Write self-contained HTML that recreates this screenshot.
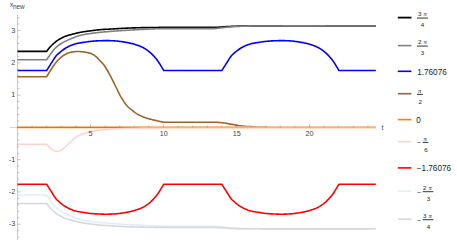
<!DOCTYPE html>
<html><head><meta charset="utf-8"><title>plot</title>
<style>
html,body{margin:0;padding:0;background:#ffffff;}
body{width:457px;height:242px;overflow:hidden;font-family:"Liberation Sans",sans-serif;}
svg{display:block;}
</style></head><body>
<svg width="457" height="242" viewBox="0 0 457 242">
<rect width="457" height="242" fill="#ffffff"/>
<g id="curves">
<path d="M17.45,51.34 L46.75,51.34 L47.50,50.24 L48.25,49.21 L49.00,48.25 L49.75,47.36 L50.50,46.53 L51.25,45.74 L52.00,45.01 L52.75,44.30 L53.50,43.63 L54.25,42.99 L55.00,42.36 L55.75,41.75 L56.50,41.17 L57.25,40.63 L58.00,40.14 L58.75,39.68 L59.50,39.24 L60.25,38.81 L61.00,38.40 L61.75,37.99 L62.50,37.58 L63.25,37.20 L64.00,36.86 L64.75,36.56 L65.50,36.28 L66.25,36.01 L67.00,35.77 L67.75,35.53 L68.50,35.30 L69.25,35.08 L70.00,34.87 L70.75,34.67 L71.50,34.47 L72.25,34.28 L73.00,34.09 L73.75,33.90 L74.50,33.71 L75.25,33.51 L76.00,33.32 L76.75,33.14 L77.50,32.96 L78.25,32.80 L79.00,32.63 L79.75,32.48 L80.50,32.33 L81.25,32.18 L82.00,32.04 L82.75,31.91 L83.50,31.79 L84.25,31.67 L85.00,31.56 L85.75,31.46 L86.50,31.35 L87.25,31.25 L88.00,31.16 L88.75,31.06 L89.50,30.96 L90.25,30.87 L91.00,30.77 L91.75,30.67 L92.50,30.57 L93.25,30.47 L94.00,30.37 L94.75,30.27 L95.50,30.18 L96.25,30.08 L97.00,29.99 L97.75,29.91 L98.50,29.83 L99.25,29.75 L100.00,29.68 L100.75,29.62 L101.50,29.56 L102.25,29.51 L103.00,29.47 L103.75,29.42 L104.50,29.38 L105.25,29.34 L106.00,29.31 L106.75,29.27 L107.50,29.23 L108.25,29.19 L109.00,29.16 L109.75,29.11 L110.50,29.07 L111.25,29.03 L112.00,28.98 L112.75,28.94 L113.50,28.89 L114.25,28.84 L115.00,28.80 L115.75,28.75 L116.50,28.70 L117.25,28.66 L118.00,28.61 L118.75,28.57 L119.50,28.53 L120.25,28.49 L121.00,28.45 L121.75,28.40 L122.50,28.36 L123.25,28.32 L124.00,28.28 L124.75,28.24 L125.50,28.20 L126.25,28.16 L127.00,28.13 L127.75,28.09 L128.50,28.06 L129.25,28.03 L130.00,28.00 L130.75,27.97 L131.50,27.95 L132.25,27.92 L133.00,27.90 L133.75,27.87 L134.50,27.85 L135.25,27.83 L136.00,27.81 L136.75,27.78 L137.50,27.76 L138.25,27.74 L139.00,27.72 L139.75,27.70 L140.50,27.69 L141.25,27.67 L142.00,27.65 L142.75,27.64 L143.50,27.63 L144.25,27.61 L145.00,27.60 L145.75,27.59 L146.50,27.58 L147.25,27.57 L148.00,27.55 L148.75,27.54 L149.50,27.53 L150.25,27.52 L151.00,27.51 L151.75,27.50 L152.50,27.49 L153.25,27.48 L154.00,27.47 L154.75,27.46 L155.50,27.45 L156.25,27.45 L157.00,27.44 L157.75,27.43 L158.50,27.43 L159.25,27.42 L160.00,27.41 L160.75,27.41 L161.50,27.41 L162.25,27.40 L163.00,27.40 L163.45,27.40 L214.50,27.40 L215.25,27.36 L216.00,27.31 L216.75,27.27 L217.50,27.22 L218.25,27.18 L219.00,27.13 L219.75,27.09 L220.50,27.04 L221.25,27.00 L222.00,26.95 L222.75,26.90 L223.50,26.85 L224.25,26.80 L225.00,26.75 L225.75,26.70 L226.50,26.65 L227.25,26.60 L228.00,26.56 L228.75,26.51 L229.50,26.47 L230.25,26.44 L231.00,26.40 L231.75,26.37 L232.50,26.33 L233.25,26.30 L234.00,26.27 L234.75,26.24 L235.50,26.21 L236.25,26.19 L237.00,26.17 L237.75,26.15 L238.50,26.14 L239.25,26.13 L240.00,26.12 L240.75,26.11 L241.50,26.10 L242.25,26.09 L243.00,26.08 L243.75,26.07 L244.50,26.06 L245.25,26.05 L246.00,26.05 L246.75,26.04 L247.50,26.03 L248.25,26.02 L249.00,26.02 L249.75,26.01 L250.50,26.01 L251.25,26.00 L252.00,26.00 L252.75,25.99 L253.50,25.99 L254.25,25.99 L255.00,25.98 L255.75,25.98 L256.50,25.98 L257.25,25.98 L258.00,25.97 L258.75,25.97 L259.50,25.97 L260.25,25.97 L261.00,25.96 L261.75,25.96 L262.50,25.96 L263.25,25.96 L264.00,25.96 L264.75,25.95 L265.50,25.95 L266.25,25.95 L267.00,25.95 L267.75,25.95 L268.50,25.95 L269.25,25.94 L270.00,25.94 L270.75,25.94 L271.50,25.94 L272.25,25.94 L273.00,25.94 L273.75,25.94 L274.50,25.93 L275.25,25.93 L276.00,25.93 L276.75,25.93 L277.50,25.93 L278.25,25.93 L279.00,25.93 L279.75,25.93 L280.50,25.93 L281.25,25.92 L282.00,25.92 L282.75,25.92 L283.50,25.92 L284.25,25.92 L285.00,25.92 L285.75,25.92 L286.50,25.92 L287.25,25.92 L288.00,25.92 L288.75,25.92 L289.50,25.92 L290.25,25.92 L291.00,25.92 L291.75,25.92 L292.50,25.92 L293.25,25.92 L294.00,25.92 L294.75,25.92 L295.50,25.92 L296.25,25.92 L297.00,25.92 L297.75,25.92 L298.50,25.92 L299.25,25.92 L300.00,25.92 L300.75,25.92 L301.50,25.92 L302.25,25.92 L303.00,25.92 L303.75,25.92 L304.50,25.92 L305.25,25.92 L306.00,25.92 L306.75,25.92 L307.50,25.92 L308.25,25.92 L309.00,25.92 L309.75,25.92 L310.50,25.92 L311.25,25.92 L312.00,25.92 L312.75,25.92 L313.50,25.92 L314.25,25.92 L315.00,25.92 L315.75,25.92 L316.50,25.92 L317.25,25.92 L318.00,25.92 L318.75,25.92 L319.50,25.92 L320.25,25.92 L321.00,25.92 L321.75,25.92 L322.50,25.92 L323.25,25.92 L324.00,25.92 L324.75,25.92 L325.50,25.92 L326.25,25.93 L327.00,25.93 L327.75,25.93 L328.50,25.93 L329.25,25.93 L330.00,25.93 L330.75,25.93 L331.50,25.93 L332.25,25.93 L333.00,25.93 L333.75,25.93 L334.50,25.93 L335.25,25.93 L336.00,25.93 L336.75,25.93 L337.50,25.93 L338.25,25.93 L339.00,25.93 L339.75,25.93 L340.50,25.93 L341.25,25.93 L342.00,25.94 L342.75,25.94 L343.50,25.94 L344.25,25.94 L345.00,25.94 L345.75,25.94 L346.50,25.94 L347.25,25.94 L348.00,25.94 L348.75,25.94 L349.50,25.94 L350.25,25.94 L351.00,25.94 L351.75,25.95 L352.50,25.95 L353.25,25.95 L354.00,25.95 L354.75,25.95 L355.50,25.95 L356.25,25.95 L357.00,25.95 L357.75,25.95 L358.50,25.96 L359.25,25.96 L360.00,25.96 L360.75,25.96 L361.50,25.96 L362.25,25.96 L363.00,25.96 L363.75,25.96 L364.50,25.97 L365.25,25.97 L366.00,25.97 L366.75,25.97 L367.50,25.97 L368.25,25.97 L369.00,25.97 L369.75,25.98 L370.50,25.98 L371.25,25.98 L372.00,25.98 L372.75,25.98 L373.50,25.98 L374.25,25.99 L375.00,25.99 L375.75,25.99 L375.80,25.99" stroke="#000000" stroke-width="1.6" fill="none" stroke-linejoin="round"/>
<path d="M17.45,59.79 L46.65,59.79 L47.40,58.66 L48.15,57.54 L48.90,56.44 L49.65,55.34 L50.40,54.25 L51.15,53.18 L51.90,52.16 L52.65,51.15 L53.40,50.20 L54.15,49.34 L54.90,48.55 L55.65,47.80 L56.40,47.10 L57.15,46.45 L57.90,45.84 L58.65,45.27 L59.40,44.74 L60.15,44.24 L60.90,43.76 L61.65,43.30 L62.40,42.85 L63.15,42.42 L63.90,42.01 L64.65,41.62 L65.40,41.26 L66.15,40.91 L66.90,40.57 L67.65,40.23 L68.40,39.89 L69.15,39.55 L69.90,39.21 L70.65,38.87 L71.40,38.55 L72.15,38.24 L72.90,37.95 L73.65,37.66 L74.40,37.38 L75.15,37.11 L75.90,36.85 L76.65,36.60 L77.40,36.34 L78.15,36.09 L78.90,35.84 L79.65,35.59 L80.40,35.37 L81.15,35.16 L81.90,34.97 L82.65,34.81 L83.40,34.66 L84.15,34.52 L84.90,34.38 L85.65,34.25 L86.40,34.13 L87.15,34.02 L87.90,33.90 L88.65,33.79 L89.40,33.69 L90.15,33.58 L90.90,33.47 L91.65,33.37 L92.40,33.26 L93.15,33.16 L93.90,33.07 L94.65,32.97 L95.40,32.88 L96.15,32.78 L96.90,32.69 L97.65,32.61 L98.40,32.52 L99.15,32.44 L99.90,32.36 L100.65,32.28 L101.40,32.21 L102.15,32.13 L102.90,32.06 L103.65,31.99 L104.40,31.92 L105.15,31.86 L105.90,31.79 L106.65,31.73 L107.40,31.67 L108.15,31.60 L108.90,31.54 L109.65,31.48 L110.40,31.42 L111.15,31.36 L111.90,31.30 L112.65,31.24 L113.40,31.18 L114.15,31.12 L114.90,31.06 L115.65,31.01 L116.40,30.95 L117.15,30.90 L117.90,30.84 L118.65,30.79 L119.40,30.74 L120.15,30.69 L120.90,30.64 L121.65,30.59 L122.40,30.55 L123.15,30.50 L123.90,30.45 L124.65,30.41 L125.40,30.36 L126.15,30.32 L126.90,30.28 L127.65,30.23 L128.40,30.19 L129.15,30.15 L129.90,30.11 L130.65,30.06 L131.40,30.02 L132.15,29.98 L132.90,29.94 L133.65,29.90 L134.40,29.85 L135.15,29.81 L135.90,29.77 L136.65,29.73 L137.40,29.69 L138.15,29.65 L138.90,29.61 L139.65,29.57 L140.40,29.53 L141.15,29.49 L141.90,29.45 L142.65,29.42 L143.40,29.38 L144.15,29.34 L144.90,29.30 L145.65,29.27 L146.40,29.23 L147.15,29.20 L147.90,29.16 L148.65,29.12 L149.40,29.09 L150.15,29.05 L150.90,29.02 L151.65,28.98 L152.40,28.95 L153.15,28.92 L153.90,28.89 L154.65,28.86 L155.40,28.84 L156.15,28.81 L156.90,28.78 L157.65,28.76 L158.40,28.74 L159.15,28.71 L159.90,28.69 L160.65,28.67 L161.40,28.65 L162.15,28.63 L162.90,28.61 L163.45,28.60 L214.50,28.60 L215.25,28.52 L216.00,28.44 L216.75,28.36 L217.50,28.27 L218.25,28.19 L219.00,28.11 L219.75,28.03 L220.50,27.94 L221.25,27.86 L222.00,27.78 L222.75,27.69 L223.50,27.61 L224.25,27.53 L225.00,27.45 L225.75,27.37 L226.50,27.29 L227.25,27.21 L228.00,27.14 L228.75,27.06 L229.50,26.99 L230.25,26.93 L231.00,26.87 L231.75,26.81 L232.50,26.76 L233.25,26.71 L234.00,26.66 L234.75,26.61 L235.50,26.57 L236.25,26.53 L237.00,26.49 L237.75,26.45 L238.50,26.41 L239.25,26.38 L240.00,26.35 L240.75,26.32 L241.50,26.30 L242.25,26.27 L243.00,26.24 L243.75,26.22 L244.50,26.20 L245.25,26.18 L246.00,26.16 L246.75,26.14 L247.50,26.13 L248.25,26.12 L249.00,26.10 L249.75,26.09 L250.50,26.08 L251.25,26.07 L252.00,26.06 L252.75,26.05 L253.50,26.04 L254.25,26.04 L255.00,26.03 L255.75,26.02 L256.50,26.01 L257.25,26.01 L258.00,26.00 L258.75,25.99 L259.50,25.99 L260.25,25.98 L261.00,25.98 L261.75,25.97 L262.50,25.97 L263.25,25.97 L264.00,25.97 L264.75,25.96 L265.50,25.96 L266.25,25.96 L267.00,25.96 L267.75,25.96 L268.50,25.95 L269.25,25.95 L270.00,25.95 L270.75,25.95 L271.50,25.94 L272.25,25.94 L273.00,25.94 L273.75,25.94 L274.50,25.94 L275.25,25.94 L276.00,25.93 L276.75,25.93 L277.50,25.93 L278.25,25.93 L279.00,25.93 L279.75,25.93 L280.50,25.93 L281.25,25.93 L282.00,25.92 L282.75,25.92 L283.50,25.92 L284.25,25.92 L285.00,25.92 L285.75,25.92 L286.50,25.92 L287.25,25.92 L288.00,25.92 L288.75,25.92 L289.50,25.92 L290.25,25.92 L291.00,25.92 L291.75,25.92 L292.50,25.92 L293.25,25.92 L294.00,25.92 L294.75,25.92 L295.50,25.92 L296.25,25.92 L297.00,25.92 L297.75,25.92 L298.50,25.92 L299.25,25.92 L300.00,25.92 L300.75,25.92 L301.50,25.92 L302.25,25.92 L303.00,25.92 L303.75,25.92 L304.50,25.92 L305.25,25.92 L306.00,25.92 L306.75,25.92 L307.50,25.92 L308.25,25.92 L309.00,25.92 L309.75,25.92 L310.50,25.92 L311.25,25.92 L312.00,25.92 L312.75,25.92 L313.50,25.92 L314.25,25.92 L315.00,25.92 L315.75,25.92 L316.50,25.92 L317.25,25.92 L318.00,25.92 L318.75,25.92 L319.50,25.92 L320.25,25.92 L321.00,25.92 L321.75,25.92 L322.50,25.92 L323.25,25.92 L324.00,25.92 L324.75,25.92 L325.50,25.92 L326.25,25.93 L327.00,25.93 L327.75,25.93 L328.50,25.93 L329.25,25.93 L330.00,25.93 L330.75,25.93 L331.50,25.93 L332.25,25.93 L333.00,25.93 L333.75,25.93 L334.50,25.93 L335.25,25.93 L336.00,25.93 L336.75,25.93 L337.50,25.93 L338.25,25.93 L339.00,25.93 L339.75,25.93 L340.50,25.93 L341.25,25.93 L342.00,25.94 L342.75,25.94 L343.50,25.94 L344.25,25.94 L345.00,25.94 L345.75,25.94 L346.50,25.94 L347.25,25.94 L348.00,25.94 L348.75,25.94 L349.50,25.94 L350.25,25.94 L351.00,25.94 L351.75,25.95 L352.50,25.95 L353.25,25.95 L354.00,25.95 L354.75,25.95 L355.50,25.95 L356.25,25.95 L357.00,25.95 L357.75,25.95 L358.50,25.96 L359.25,25.96 L360.00,25.96 L360.75,25.96 L361.50,25.96 L362.25,25.96 L363.00,25.96 L363.75,25.96 L364.50,25.97 L365.25,25.97 L366.00,25.97 L366.75,25.97 L367.50,25.97 L368.25,25.97 L369.00,25.97 L369.75,25.98 L370.50,25.98 L371.25,25.98 L372.00,25.98 L372.75,25.98 L373.50,25.98 L374.25,25.99 L375.00,25.99 L375.75,25.99 L375.80,25.99" stroke="#808080" stroke-width="1.6" fill="none" stroke-linejoin="round"/>
<path d="M17.45,70.56 L46.65,70.56 L47.40,69.37 L48.15,68.18 L48.90,66.99 L49.65,65.81 L50.40,64.63 L51.15,63.44 L51.90,62.27 L52.65,61.10 L53.40,59.90 L54.15,58.67 L54.90,57.49 L55.65,56.43 L56.40,55.55 L57.15,54.79 L57.90,54.09 L58.65,53.44 L59.40,52.78 L60.15,52.13 L60.90,51.50 L61.65,50.90 L62.40,50.33 L63.15,49.77 L63.90,49.24 L64.65,48.73 L65.40,48.25 L66.15,47.80 L66.90,47.37 L67.65,46.96 L68.40,46.57 L69.15,46.20 L69.90,45.87 L70.65,45.55 L71.40,45.24 L72.15,44.94 L72.90,44.65 L73.65,44.39 L74.40,44.15 L75.15,43.93 L75.90,43.73 L76.65,43.56 L77.40,43.39 L78.15,43.24 L78.90,43.10 L79.65,42.97 L80.40,42.84 L81.15,42.72 L81.90,42.60 L82.65,42.49 L83.40,42.39 L84.15,42.28 L84.90,42.17 L85.65,42.06 L86.40,41.95 L87.15,41.83 L87.90,41.72 L88.65,41.62 L89.40,41.52 L90.15,41.43 L90.90,41.36 L91.65,41.28 L92.40,41.21 L93.15,41.14 L93.90,41.08 L94.65,41.02 L95.40,40.97 L96.15,40.92 L96.90,40.89 L97.65,40.85 L98.40,40.82 L99.15,40.79 L99.90,40.76 L100.65,40.73 L101.40,40.70 L102.15,40.68 L102.90,40.65 L103.65,40.64 L104.40,40.62 L105.15,40.61 L105.90,40.60 L106.65,40.60 L107.40,40.60 L108.15,40.61 L108.90,40.63 L109.65,40.65 L110.40,40.68 L111.15,40.71 L111.90,40.74 L112.65,40.78 L113.40,40.82 L114.15,40.86 L114.90,40.91 L115.65,40.95 L116.40,41.00 L117.15,41.07 L117.90,41.15 L118.65,41.24 L119.40,41.34 L120.15,41.44 L120.90,41.55 L121.65,41.65 L122.40,41.76 L123.15,41.87 L123.90,41.98 L124.65,42.10 L125.40,42.23 L126.15,42.36 L126.90,42.50 L127.65,42.64 L128.40,42.79 L129.15,42.95 L129.90,43.11 L130.65,43.28 L131.40,43.46 L132.15,43.65 L132.90,43.85 L133.65,44.05 L134.40,44.26 L135.15,44.48 L135.90,44.72 L136.65,44.96 L137.40,45.21 L138.15,45.48 L138.90,45.76 L139.65,46.05 L140.40,46.35 L141.15,46.68 L141.90,47.02 L142.65,47.39 L143.40,47.78 L144.15,48.20 L144.90,48.65 L145.65,49.13 L146.40,49.63 L147.15,50.15 L147.90,50.70 L148.65,51.28 L149.40,51.89 L150.15,52.53 L150.90,53.20 L151.65,53.91 L152.40,54.65 L153.15,55.41 L153.90,56.22 L154.65,57.06 L155.40,57.92 L156.15,58.81 L156.90,59.74 L157.65,60.75 L158.40,61.85 L159.15,63.00 L159.90,64.18 L160.65,65.40 L161.40,66.68 L162.15,67.95 L162.90,69.16 L163.65,70.33 L163.80,70.56 L221.85,70.56 L222.60,69.37 L223.35,68.18 L224.10,66.99 L224.85,65.81 L225.60,64.63 L226.35,63.44 L227.10,62.27 L227.85,61.10 L228.60,59.90 L229.35,58.67 L230.10,57.49 L230.85,56.43 L231.60,55.55 L232.35,54.79 L233.10,54.09 L233.85,53.44 L234.60,52.78 L235.35,52.13 L236.10,51.50 L236.85,50.90 L237.60,50.33 L238.35,49.77 L239.10,49.24 L239.85,48.73 L240.60,48.25 L241.35,47.80 L242.10,47.37 L242.85,46.96 L243.60,46.57 L244.35,46.20 L245.10,45.87 L245.85,45.55 L246.60,45.24 L247.35,44.94 L248.10,44.65 L248.85,44.39 L249.60,44.15 L250.35,43.93 L251.10,43.73 L251.85,43.56 L252.60,43.39 L253.35,43.24 L254.10,43.10 L254.85,42.97 L255.60,42.84 L256.35,42.72 L257.10,42.60 L257.85,42.49 L258.60,42.39 L259.35,42.28 L260.10,42.17 L260.85,42.06 L261.60,41.95 L262.35,41.83 L263.10,41.72 L263.85,41.62 L264.60,41.52 L265.35,41.43 L266.10,41.36 L266.85,41.28 L267.60,41.21 L268.35,41.14 L269.10,41.08 L269.85,41.02 L270.60,40.97 L271.35,40.92 L272.10,40.89 L272.85,40.85 L273.60,40.82 L274.35,40.79 L275.10,40.76 L275.85,40.73 L276.60,40.70 L277.35,40.68 L278.10,40.65 L278.85,40.64 L279.60,40.62 L280.35,40.61 L281.10,40.60 L281.85,40.60 L282.60,40.60 L283.35,40.61 L284.10,40.63 L284.85,40.65 L285.60,40.68 L286.35,40.71 L287.10,40.74 L287.85,40.78 L288.60,40.82 L289.35,40.86 L290.10,40.91 L290.85,40.95 L291.60,41.00 L292.35,41.07 L293.10,41.15 L293.85,41.24 L294.60,41.34 L295.35,41.44 L296.10,41.55 L296.85,41.65 L297.60,41.76 L298.35,41.87 L299.10,41.98 L299.85,42.10 L300.60,42.23 L301.35,42.36 L302.10,42.50 L302.85,42.64 L303.60,42.79 L304.35,42.95 L305.10,43.11 L305.85,43.28 L306.60,43.46 L307.35,43.65 L308.10,43.85 L308.85,44.05 L309.60,44.26 L310.35,44.48 L311.10,44.72 L311.85,44.96 L312.60,45.21 L313.35,45.48 L314.10,45.76 L314.85,46.05 L315.60,46.35 L316.35,46.68 L317.10,47.02 L317.85,47.39 L318.60,47.78 L319.35,48.20 L320.10,48.65 L320.85,49.13 L321.60,49.63 L322.35,50.15 L323.10,50.70 L323.85,51.28 L324.60,51.89 L325.35,52.53 L326.10,53.20 L326.85,53.91 L327.60,54.65 L328.35,55.41 L329.10,56.22 L329.85,57.06 L330.60,57.92 L331.35,58.81 L332.10,59.74 L332.85,60.75 L333.60,61.85 L334.35,63.00 L335.10,64.18 L335.85,65.40 L336.60,66.68 L337.35,67.95 L338.10,69.16 L338.85,70.33 L339.00,70.56 L375.80,70.56" stroke="#0000ff" stroke-width="1.6" fill="none" stroke-linejoin="round"/>
<path d="M17.45,76.69 L46.65,76.69 L47.40,75.47 L48.15,74.25 L48.90,73.05 L49.65,71.85 L50.40,70.67 L51.15,69.48 L51.90,68.31 L52.65,67.16 L53.40,66.06 L54.15,64.97 L54.90,63.90 L55.65,62.88 L56.40,61.94 L57.15,61.07 L57.90,60.25 L58.65,59.48 L59.40,58.74 L60.15,58.06 L60.90,57.42 L61.65,56.81 L62.40,56.24 L63.15,55.70 L63.90,55.20 L64.65,54.74 L65.40,54.33 L66.15,53.93 L66.90,53.56 L67.65,53.22 L68.40,52.93 L69.15,52.69 L69.90,52.47 L70.65,52.28 L71.40,52.11 L72.15,51.96 L72.90,51.85 L73.65,51.77 L74.40,51.69 L75.15,51.63 L75.90,51.57 L76.65,51.53 L77.40,51.51 L78.15,51.50 L78.90,51.52 L79.65,51.56 L80.40,51.61 L81.15,51.68 L81.90,51.74 L82.65,51.81 L83.40,51.90 L84.15,52.00 L84.90,52.12 L85.65,52.24 L86.40,52.37 L87.15,52.52 L87.90,52.69 L88.65,52.87 L89.40,53.07 L90.15,53.30 L90.90,53.56 L91.65,53.86 L92.40,54.20 L93.15,54.59 L93.90,55.04 L94.65,55.55 L95.40,56.10 L96.15,56.69 L96.90,57.35 L97.65,58.14 L98.40,58.99 L99.15,59.84 L99.90,60.63 L100.65,61.39 L101.40,62.14 L102.15,62.91 L102.90,63.73 L103.65,64.62 L104.40,65.61 L105.15,66.75 L105.90,67.98 L106.65,69.24 L107.40,70.50 L108.15,71.77 L108.90,73.07 L109.65,74.41 L110.40,75.81 L111.15,77.28 L111.90,78.78 L112.65,80.31 L113.40,81.86 L114.15,83.44 L114.90,85.00 L115.65,86.51 L116.40,88.00 L117.15,89.50 L117.90,91.03 L118.65,92.61 L119.40,94.14 L120.15,95.54 L120.90,96.83 L121.65,98.05 L122.40,99.22 L123.15,100.39 L123.90,101.57 L124.65,102.72 L125.40,103.82 L126.15,104.82 L126.90,105.70 L127.65,106.52 L128.40,107.27 L129.15,107.96 L129.90,108.57 L130.65,109.13 L131.40,109.66 L132.15,110.21 L132.90,110.80 L133.65,111.43 L134.40,112.06 L135.15,112.65 L135.90,113.17 L136.65,113.65 L137.40,114.11 L138.15,114.54 L138.90,114.95 L139.65,115.34 L140.40,115.70 L141.15,116.05 L141.90,116.38 L142.65,116.69 L143.40,116.99 L144.15,117.28 L144.90,117.56 L145.65,117.82 L146.40,118.06 L147.15,118.29 L147.90,118.52 L148.65,118.73 L149.40,118.94 L150.15,119.14 L150.90,119.33 L151.65,119.52 L152.40,119.69 L153.15,119.87 L153.90,120.04 L154.65,120.22 L155.40,120.40 L156.15,120.58 L156.90,120.76 L157.65,120.94 L158.40,121.12 L159.15,121.28 L159.90,121.44 L160.65,121.60 L161.40,121.75 L162.15,121.90 L162.90,122.05 L163.45,122.15 L215.00,122.20 L215.75,122.24 L216.50,122.29 L217.25,122.34 L218.00,122.39 L218.75,122.45 L219.50,122.51 L220.25,122.57 L221.00,122.63 L221.75,122.70 L222.50,122.77 L223.25,122.84 L224.00,122.93 L224.75,123.02 L225.50,123.12 L226.25,123.25 L227.00,123.40 L227.75,123.55 L228.50,123.70 L229.25,123.85 L230.00,123.99 L230.75,124.12 L231.50,124.26 L232.25,124.40 L233.00,124.54 L233.75,124.69 L234.50,124.83 L235.25,124.98 L236.00,125.13 L236.75,125.28 L237.50,125.41 L238.25,125.54 L239.00,125.67 L239.75,125.80 L240.50,125.91 L241.25,126.01 L242.00,126.09 L242.75,126.16 L243.50,126.23 L244.25,126.28 L245.00,126.34 L245.75,126.38 L246.50,126.43 L247.25,126.47 L248.00,126.51 L248.75,126.54 L249.50,126.58 L250.25,126.61 L251.00,126.65 L251.75,126.69 L252.50,126.73 L253.25,126.77 L254.00,126.81 L254.75,126.85 L255.50,126.89 L256.25,126.93 L257.00,126.96 L257.75,126.99 L258.50,127.02 L259.25,127.05 L260.00,127.07 L260.75,127.10 L261.50,127.13 L262.25,127.15 L263.00,127.17 L263.75,127.20 L264.50,127.22 L265.25,127.24 L266.00,127.26 L266.75,127.27 L267.50,127.29 L268.00,127.30" stroke="#9b652c" stroke-width="1.6" fill="none" stroke-linejoin="round"/>
<path d="M17.45,127.40 L375.80,127.40" stroke="#ff8000" stroke-width="1.6" fill="none" stroke-linejoin="round"/>
<path d="M17.45,144.30 L46.65,144.30 L47.40,145.09 L48.15,145.85 L48.90,146.58 L49.65,147.27 L50.40,147.96 L51.15,148.66 L51.90,149.33 L52.65,149.89 L53.40,150.29 L54.15,150.64 L54.90,150.95 L55.65,151.18 L56.40,151.29 L57.15,151.28 L57.90,151.20 L58.65,151.08 L59.40,150.92 L60.15,150.73 L60.90,150.39 L61.65,149.91 L62.40,149.33 L63.15,148.70 L63.90,148.08 L64.65,147.45 L65.40,146.76 L66.15,146.03 L66.90,145.27 L67.65,144.53 L68.40,143.81 L69.15,143.10 L69.90,142.38 L70.65,141.67 L71.40,140.98 L72.15,140.31 L72.90,139.67 L73.65,139.04 L74.40,138.42 L75.15,137.83 L75.90,137.29 L76.65,136.81 L77.40,136.38 L78.15,135.98 L78.90,135.61 L79.65,135.26 L80.40,134.93 L81.15,134.61 L81.90,134.29 L82.65,133.99 L83.40,133.69 L84.15,133.41 L84.90,133.15 L85.65,132.91 L86.40,132.68 L87.15,132.47 L87.90,132.26 L88.65,132.07 L89.40,131.88 L90.15,131.70 L90.90,131.53 L91.65,131.37 L92.40,131.22 L93.15,131.07 L93.90,130.93 L94.65,130.80 L95.40,130.68 L96.15,130.56 L96.90,130.46 L97.65,130.36 L98.40,130.27 L99.15,130.18 L99.90,130.10 L100.65,130.01 L101.40,129.94 L102.15,129.86 L102.90,129.79 L103.65,129.72 L104.40,129.65 L105.15,129.59 L105.90,129.52 L106.65,129.46 L107.40,129.41 L108.15,129.35 L108.90,129.30 L109.65,129.24 L110.40,129.19 L111.15,129.14 L111.90,129.09 L112.65,129.04 L113.40,128.99 L114.15,128.94 L114.90,128.89 L115.65,128.84 L116.40,128.79 L117.15,128.75 L117.90,128.70 L118.65,128.65 L119.40,128.61 L120.15,128.57 L120.90,128.53 L121.65,128.50 L122.40,128.47 L123.15,128.43 L123.90,128.40 L124.65,128.37 L125.40,128.34 L126.15,128.31 L126.90,128.29 L127.65,128.26 L128.40,128.23 L129.15,128.21 L129.90,128.18 L130.65,128.16 L131.40,128.13 L132.15,128.11 L132.90,128.09 L133.65,128.06 L134.40,128.04 L135.15,128.02 L135.90,128.00 L136.65,127.98 L137.40,127.96 L138.15,127.94 L138.90,127.93 L139.65,127.91 L140.40,127.89 L141.15,127.87 L141.90,127.86 L142.65,127.84 L143.40,127.82 L144.15,127.81 L144.90,127.79 L145.65,127.78 L146.40,127.76 L147.15,127.75 L147.90,127.73 L148.65,127.72 L149.40,127.70 L150.15,127.69 L150.90,127.67 L151.65,127.66 L152.40,127.65 L153.15,127.63 L153.90,127.62 L154.65,127.61 L155.40,127.60 L156.15,127.59 L156.90,127.57 L157.65,127.56 L158.40,127.55 L159.15,127.54 L159.90,127.54 L160.65,127.53 L161.40,127.52 L162.15,127.51 L162.90,127.50 L163.45,127.50 L221.85,127.50 L222.60,127.50 L223.35,127.49 L224.10,127.49 L224.85,127.48 L225.60,127.48 L226.35,127.48 L227.10,127.47 L227.85,127.47 L228.60,127.46 L229.35,127.46 L230.10,127.45 L230.85,127.45 L231.60,127.45 L232.35,127.44 L233.10,127.44 L233.85,127.44 L234.60,127.43 L235.35,127.43 L236.10,127.43 L236.85,127.42 L237.60,127.42 L238.35,127.42 L239.10,127.42 L239.85,127.42 L240.60,127.42 L241.35,127.42 L242.10,127.42 L242.85,127.42 L243.60,127.42 L244.35,127.42 L245.10,127.42 L245.85,127.42 L246.60,127.42 L247.35,127.42 L248.10,127.42 L248.85,127.42 L249.60,127.42 L250.35,127.42 L251.10,127.42 L251.85,127.42 L252.60,127.42 L253.35,127.42 L254.10,127.42 L254.85,127.41 L255.60,127.41 L256.35,127.41 L257.10,127.41 L257.85,127.41 L258.60,127.41 L259.35,127.41 L260.10,127.41 L260.85,127.41 L261.60,127.41 L262.35,127.41 L263.10,127.41 L263.85,127.41 L264.60,127.41 L265.35,127.41 L266.10,127.41 L266.85,127.41 L267.60,127.41 L268.35,127.41 L269.10,127.41 L269.85,127.41 L270.60,127.41 L271.35,127.41 L272.10,127.41 L272.85,127.41 L273.60,127.41 L274.35,127.41 L275.10,127.41 L275.85,127.41 L276.60,127.41 L277.35,127.41 L278.10,127.41 L278.85,127.41 L279.60,127.41 L280.35,127.41 L281.10,127.41 L281.85,127.41 L282.60,127.41 L283.35,127.41 L284.10,127.41 L284.85,127.41 L285.60,127.41 L286.35,127.41 L287.10,127.41 L287.85,127.41 L288.60,127.41 L289.35,127.41 L290.10,127.41 L290.85,127.41 L291.60,127.41 L292.35,127.41 L293.10,127.41 L293.85,127.41 L294.60,127.41 L295.35,127.41 L296.10,127.41 L296.85,127.41 L297.60,127.41 L298.35,127.40 L299.10,127.40 L299.85,127.40 L300.60,127.40 L301.35,127.40 L302.10,127.40 L302.85,127.40 L303.60,127.40 L304.35,127.40 L305.10,127.40 L305.85,127.40 L306.60,127.40 L307.35,127.40 L308.10,127.40 L308.85,127.40 L309.60,127.40 L310.35,127.40 L311.10,127.40 L311.85,127.40 L312.60,127.40 L313.35,127.40 L314.10,127.40 L314.85,127.40 L315.60,127.40 L316.35,127.40 L317.10,127.40 L317.85,127.40 L318.60,127.40 L319.35,127.40 L320.10,127.40 L320.85,127.40 L321.60,127.40 L322.35,127.40 L323.10,127.40 L323.85,127.40 L324.60,127.40 L325.35,127.40 L326.10,127.40 L326.85,127.40 L327.60,127.40 L328.35,127.40 L329.10,127.40 L329.85,127.40 L330.60,127.40 L331.35,127.40 L332.10,127.40 L332.85,127.40 L333.60,127.40 L334.35,127.40 L335.10,127.40 L335.85,127.40 L336.60,127.40 L337.35,127.40 L338.10,127.40 L338.85,127.40 L339.60,127.40 L340.35,127.40 L341.10,127.40 L341.85,127.40 L342.60,127.40 L343.35,127.40 L344.10,127.40 L344.85,127.40 L345.60,127.40 L346.35,127.40 L347.10,127.40 L347.85,127.40 L348.60,127.40 L349.35,127.40 L350.10,127.40 L350.85,127.40 L351.60,127.40 L352.35,127.40 L353.10,127.40 L353.85,127.40 L354.60,127.40 L355.35,127.40 L356.10,127.40 L356.85,127.40 L357.60,127.40 L358.35,127.40 L359.10,127.40 L359.85,127.40 L360.60,127.40 L361.35,127.40 L362.10,127.40 L362.85,127.40 L363.60,127.40 L364.35,127.40 L365.10,127.40 L365.85,127.40 L366.60,127.40 L367.35,127.40 L368.10,127.40 L368.85,127.40 L369.60,127.40 L370.35,127.40 L371.10,127.40 L371.85,127.40 L372.60,127.40 L373.35,127.40 L374.10,127.40 L374.85,127.40 L375.60,127.40 L375.80,127.40" stroke="#ffd2d2" stroke-width="1.6" fill="none" stroke-linejoin="round"/>
<path d="M17.45,184.24 L46.65,184.24 L47.40,185.43 L48.15,186.62 L48.90,187.81 L49.65,188.99 L50.40,190.17 L51.15,191.36 L51.90,192.53 L52.65,193.70 L53.40,194.90 L54.15,196.13 L54.90,197.31 L55.65,198.37 L56.40,199.25 L57.15,200.01 L57.90,200.71 L58.65,201.36 L59.40,202.02 L60.15,202.67 L60.90,203.30 L61.65,203.90 L62.40,204.47 L63.15,205.03 L63.90,205.56 L64.65,206.07 L65.40,206.55 L66.15,207.00 L66.90,207.43 L67.65,207.84 L68.40,208.23 L69.15,208.60 L69.90,208.93 L70.65,209.25 L71.40,209.56 L72.15,209.86 L72.90,210.15 L73.65,210.41 L74.40,210.65 L75.15,210.87 L75.90,211.07 L76.65,211.24 L77.40,211.41 L78.15,211.56 L78.90,211.70 L79.65,211.83 L80.40,211.96 L81.15,212.08 L81.90,212.20 L82.65,212.31 L83.40,212.41 L84.15,212.52 L84.90,212.63 L85.65,212.74 L86.40,212.85 L87.15,212.97 L87.90,213.08 L88.65,213.18 L89.40,213.28 L90.15,213.37 L90.90,213.44 L91.65,213.52 L92.40,213.59 L93.15,213.66 L93.90,213.72 L94.65,213.78 L95.40,213.83 L96.15,213.88 L96.90,213.91 L97.65,213.95 L98.40,213.98 L99.15,214.01 L99.90,214.04 L100.65,214.07 L101.40,214.10 L102.15,214.12 L102.90,214.15 L103.65,214.16 L104.40,214.18 L105.15,214.19 L105.90,214.20 L106.65,214.20 L107.40,214.20 L108.15,214.19 L108.90,214.17 L109.65,214.15 L110.40,214.12 L111.15,214.09 L111.90,214.06 L112.65,214.02 L113.40,213.98 L114.15,213.94 L114.90,213.89 L115.65,213.85 L116.40,213.80 L117.15,213.73 L117.90,213.65 L118.65,213.56 L119.40,213.46 L120.15,213.36 L120.90,213.25 L121.65,213.15 L122.40,213.04 L123.15,212.93 L123.90,212.82 L124.65,212.70 L125.40,212.57 L126.15,212.44 L126.90,212.30 L127.65,212.16 L128.40,212.01 L129.15,211.85 L129.90,211.69 L130.65,211.52 L131.40,211.34 L132.15,211.15 L132.90,210.95 L133.65,210.75 L134.40,210.54 L135.15,210.32 L135.90,210.08 L136.65,209.84 L137.40,209.59 L138.15,209.32 L138.90,209.04 L139.65,208.75 L140.40,208.45 L141.15,208.12 L141.90,207.78 L142.65,207.41 L143.40,207.02 L144.15,206.60 L144.90,206.15 L145.65,205.67 L146.40,205.17 L147.15,204.65 L147.90,204.10 L148.65,203.52 L149.40,202.91 L150.15,202.27 L150.90,201.60 L151.65,200.89 L152.40,200.15 L153.15,199.39 L153.90,198.58 L154.65,197.74 L155.40,196.88 L156.15,195.99 L156.90,195.06 L157.65,194.05 L158.40,192.95 L159.15,191.80 L159.90,190.62 L160.65,189.40 L161.40,188.12 L162.15,186.85 L162.90,185.64 L163.65,184.47 L163.80,184.24 L221.85,184.24 L222.60,185.43 L223.35,186.62 L224.10,187.81 L224.85,188.99 L225.60,190.17 L226.35,191.36 L227.10,192.53 L227.85,193.70 L228.60,194.90 L229.35,196.13 L230.10,197.31 L230.85,198.37 L231.60,199.25 L232.35,200.01 L233.10,200.71 L233.85,201.36 L234.60,202.02 L235.35,202.67 L236.10,203.30 L236.85,203.90 L237.60,204.47 L238.35,205.03 L239.10,205.56 L239.85,206.07 L240.60,206.55 L241.35,207.00 L242.10,207.43 L242.85,207.84 L243.60,208.23 L244.35,208.60 L245.10,208.93 L245.85,209.25 L246.60,209.56 L247.35,209.86 L248.10,210.15 L248.85,210.41 L249.60,210.65 L250.35,210.87 L251.10,211.07 L251.85,211.24 L252.60,211.41 L253.35,211.56 L254.10,211.70 L254.85,211.83 L255.60,211.96 L256.35,212.08 L257.10,212.20 L257.85,212.31 L258.60,212.41 L259.35,212.52 L260.10,212.63 L260.85,212.74 L261.60,212.85 L262.35,212.97 L263.10,213.08 L263.85,213.18 L264.60,213.28 L265.35,213.37 L266.10,213.44 L266.85,213.52 L267.60,213.59 L268.35,213.66 L269.10,213.72 L269.85,213.78 L270.60,213.83 L271.35,213.88 L272.10,213.91 L272.85,213.95 L273.60,213.98 L274.35,214.01 L275.10,214.04 L275.85,214.07 L276.60,214.10 L277.35,214.12 L278.10,214.15 L278.85,214.16 L279.60,214.18 L280.35,214.19 L281.10,214.20 L281.85,214.20 L282.60,214.20 L283.35,214.19 L284.10,214.17 L284.85,214.15 L285.60,214.12 L286.35,214.09 L287.10,214.06 L287.85,214.02 L288.60,213.98 L289.35,213.94 L290.10,213.89 L290.85,213.85 L291.60,213.80 L292.35,213.73 L293.10,213.65 L293.85,213.56 L294.60,213.46 L295.35,213.36 L296.10,213.25 L296.85,213.15 L297.60,213.04 L298.35,212.93 L299.10,212.82 L299.85,212.70 L300.60,212.57 L301.35,212.44 L302.10,212.30 L302.85,212.16 L303.60,212.01 L304.35,211.85 L305.10,211.69 L305.85,211.52 L306.60,211.34 L307.35,211.15 L308.10,210.95 L308.85,210.75 L309.60,210.54 L310.35,210.32 L311.10,210.08 L311.85,209.84 L312.60,209.59 L313.35,209.32 L314.10,209.04 L314.85,208.75 L315.60,208.45 L316.35,208.12 L317.10,207.78 L317.85,207.41 L318.60,207.02 L319.35,206.60 L320.10,206.15 L320.85,205.67 L321.60,205.17 L322.35,204.65 L323.10,204.10 L323.85,203.52 L324.60,202.91 L325.35,202.27 L326.10,201.60 L326.85,200.89 L327.60,200.15 L328.35,199.39 L329.10,198.58 L329.85,197.74 L330.60,196.88 L331.35,195.99 L332.10,195.06 L332.85,194.05 L333.60,192.95 L334.35,191.80 L335.10,190.62 L335.85,189.40 L336.60,188.12 L337.35,186.85 L338.10,185.64 L338.85,184.47 L339.00,184.24 L375.80,184.24" stroke="#ff0000" stroke-width="1.6" fill="none" stroke-linejoin="round"/>
<path d="M17.45,195.01 L46.65,195.01 L47.40,196.14 L48.15,197.26 L48.90,198.36 L49.65,199.46 L50.40,200.55 L51.15,201.62 L51.90,202.64 L52.65,203.65 L53.40,204.60 L54.15,205.46 L54.90,206.25 L55.65,207.00 L56.40,207.70 L57.15,208.35 L57.90,208.96 L58.65,209.53 L59.40,210.06 L60.15,210.56 L60.90,211.04 L61.65,211.50 L62.40,211.95 L63.15,212.38 L63.90,212.79 L64.65,213.18 L65.40,213.54 L66.15,213.89 L66.90,214.23 L67.65,214.57 L68.40,214.91 L69.15,215.25 L69.90,215.59 L70.65,215.93 L71.40,216.25 L72.15,216.56 L72.90,216.85 L73.65,217.14 L74.40,217.42 L75.15,217.69 L75.90,217.95 L76.65,218.20 L77.40,218.46 L78.15,218.71 L78.90,218.96 L79.65,219.21 L80.40,219.43 L81.15,219.64 L81.90,219.83 L82.65,219.99 L83.40,220.14 L84.15,220.28 L84.90,220.42 L85.65,220.55 L86.40,220.67 L87.15,220.78 L87.90,220.90 L88.65,221.01 L89.40,221.11 L90.15,221.22 L90.90,221.33 L91.65,221.43 L92.40,221.54 L93.15,221.64 L93.90,221.73 L94.65,221.83 L95.40,221.92 L96.15,222.02 L96.90,222.11 L97.65,222.19 L98.40,222.28 L99.15,222.36 L99.90,222.44 L100.65,222.52 L101.40,222.59 L102.15,222.67 L102.90,222.74 L103.65,222.81 L104.40,222.88 L105.15,222.94 L105.90,223.01 L106.65,223.07 L107.40,223.13 L108.15,223.20 L108.90,223.26 L109.65,223.32 L110.40,223.38 L111.15,223.44 L111.90,223.50 L112.65,223.56 L113.40,223.62 L114.15,223.68 L114.90,223.74 L115.65,223.79 L116.40,223.85 L117.15,223.90 L117.90,223.96 L118.65,224.01 L119.40,224.06 L120.15,224.11 L120.90,224.16 L121.65,224.21 L122.40,224.25 L123.15,224.30 L123.90,224.35 L124.65,224.39 L125.40,224.44 L126.15,224.48 L126.90,224.52 L127.65,224.57 L128.40,224.61 L129.15,224.65 L129.90,224.69 L130.65,224.74 L131.40,224.78 L132.15,224.82 L132.90,224.86 L133.65,224.90 L134.40,224.95 L135.15,224.99 L135.90,225.03 L136.65,225.07 L137.40,225.11 L138.15,225.15 L138.90,225.19 L139.65,225.23 L140.40,225.27 L141.15,225.31 L141.90,225.35 L142.65,225.38 L143.40,225.42 L144.15,225.46 L144.90,225.50 L145.65,225.53 L146.40,225.57 L147.15,225.60 L147.90,225.64 L148.65,225.68 L149.40,225.71 L150.15,225.75 L150.90,225.78 L151.65,225.82 L152.40,225.85 L153.15,225.88 L153.90,225.91 L154.65,225.94 L155.40,225.96 L156.15,225.99 L156.90,226.02 L157.65,226.04 L158.40,226.06 L159.15,226.09 L159.90,226.11 L160.65,226.13 L161.40,226.15 L162.15,226.17 L162.90,226.19 L163.45,226.20 L214.50,226.20 L215.25,226.28 L216.00,226.36 L216.75,226.44 L217.50,226.53 L218.25,226.61 L219.00,226.69 L219.75,226.77 L220.50,226.86 L221.25,226.94 L222.00,227.02 L222.75,227.11 L223.50,227.19 L224.25,227.27 L225.00,227.35 L225.75,227.43 L226.50,227.51 L227.25,227.59 L228.00,227.66 L228.75,227.74 L229.50,227.81 L230.25,227.87 L231.00,227.93 L231.75,227.99 L232.50,228.04 L233.25,228.09 L234.00,228.14 L234.75,228.19 L235.50,228.23 L236.25,228.27 L237.00,228.31 L237.75,228.35 L238.50,228.39 L239.25,228.42 L240.00,228.45 L240.75,228.48 L241.50,228.50 L242.25,228.53 L243.00,228.56 L243.75,228.58 L244.50,228.60 L245.25,228.62 L246.00,228.64 L246.75,228.66 L247.50,228.67 L248.25,228.68 L249.00,228.70 L249.75,228.71 L250.50,228.72 L251.25,228.73 L252.00,228.74 L252.75,228.75 L253.50,228.76 L254.25,228.76 L255.00,228.77 L255.75,228.78 L256.50,228.79 L257.25,228.79 L258.00,228.80 L258.75,228.81 L259.50,228.81 L260.25,228.82 L261.00,228.82 L261.75,228.83 L262.50,228.83 L263.25,228.83 L264.00,228.83 L264.75,228.84 L265.50,228.84 L266.25,228.84 L267.00,228.84 L267.75,228.84 L268.50,228.85 L269.25,228.85 L270.00,228.85 L270.75,228.85 L271.50,228.86 L272.25,228.86 L273.00,228.86 L273.75,228.86 L274.50,228.86 L275.25,228.86 L276.00,228.87 L276.75,228.87 L277.50,228.87 L278.25,228.87 L279.00,228.87 L279.75,228.87 L280.50,228.87 L281.25,228.87 L282.00,228.88 L282.75,228.88 L283.50,228.88 L284.25,228.88 L285.00,228.88 L285.75,228.88 L286.50,228.88 L287.25,228.88 L288.00,228.88 L288.75,228.88 L289.50,228.88 L290.25,228.88 L291.00,228.88 L291.75,228.88 L292.50,228.88 L293.25,228.88 L294.00,228.88 L294.75,228.88 L295.50,228.88 L296.25,228.88 L297.00,228.88 L297.75,228.88 L298.50,228.88 L299.25,228.88 L300.00,228.88 L300.75,228.88 L301.50,228.88 L302.25,228.88 L303.00,228.88 L303.75,228.88 L304.50,228.88 L305.25,228.88 L306.00,228.88 L306.75,228.88 L307.50,228.88 L308.25,228.88 L309.00,228.88 L309.75,228.88 L310.50,228.88 L311.25,228.88 L312.00,228.88 L312.75,228.88 L313.50,228.88 L314.25,228.88 L315.00,228.88 L315.75,228.88 L316.50,228.88 L317.25,228.88 L318.00,228.88 L318.75,228.88 L319.50,228.88 L320.25,228.88 L321.00,228.88 L321.75,228.88 L322.50,228.88 L323.25,228.88 L324.00,228.88 L324.75,228.88 L325.50,228.88 L326.25,228.87 L327.00,228.87 L327.75,228.87 L328.50,228.87 L329.25,228.87 L330.00,228.87 L330.75,228.87 L331.50,228.87 L332.25,228.87 L333.00,228.87 L333.75,228.87 L334.50,228.87 L335.25,228.87 L336.00,228.87 L336.75,228.87 L337.50,228.87 L338.25,228.87 L339.00,228.87 L339.75,228.87 L340.50,228.87 L341.25,228.87 L342.00,228.86 L342.75,228.86 L343.50,228.86 L344.25,228.86 L345.00,228.86 L345.75,228.86 L346.50,228.86 L347.25,228.86 L348.00,228.86 L348.75,228.86 L349.50,228.86 L350.25,228.86 L351.00,228.86 L351.75,228.85 L352.50,228.85 L353.25,228.85 L354.00,228.85 L354.75,228.85 L355.50,228.85 L356.25,228.85 L357.00,228.85 L357.75,228.85 L358.50,228.84 L359.25,228.84 L360.00,228.84 L360.75,228.84 L361.50,228.84 L362.25,228.84 L363.00,228.84 L363.75,228.84 L364.50,228.83 L365.25,228.83 L366.00,228.83 L366.75,228.83 L367.50,228.83 L368.25,228.83 L369.00,228.83 L369.75,228.82 L370.50,228.82 L371.25,228.82 L372.00,228.82 L372.75,228.82 L373.50,228.82 L374.25,228.81 L375.00,228.81 L375.75,228.81 L375.80,228.81" stroke="#deeefc" stroke-width="1.6" fill="none" stroke-linejoin="round"/>
<path d="M17.45,203.46 L46.75,203.46 L47.50,204.56 L48.25,205.59 L49.00,206.55 L49.75,207.44 L50.50,208.27 L51.25,209.06 L52.00,209.79 L52.75,210.50 L53.50,211.17 L54.25,211.81 L55.00,212.44 L55.75,213.05 L56.50,213.63 L57.25,214.17 L58.00,214.66 L58.75,215.12 L59.50,215.56 L60.25,215.99 L61.00,216.40 L61.75,216.81 L62.50,217.22 L63.25,217.60 L64.00,217.94 L64.75,218.24 L65.50,218.52 L66.25,218.79 L67.00,219.03 L67.75,219.27 L68.50,219.50 L69.25,219.72 L70.00,219.93 L70.75,220.13 L71.50,220.33 L72.25,220.52 L73.00,220.71 L73.75,220.90 L74.50,221.09 L75.25,221.29 L76.00,221.48 L76.75,221.66 L77.50,221.84 L78.25,222.00 L79.00,222.17 L79.75,222.32 L80.50,222.47 L81.25,222.62 L82.00,222.76 L82.75,222.89 L83.50,223.01 L84.25,223.13 L85.00,223.24 L85.75,223.34 L86.50,223.45 L87.25,223.55 L88.00,223.64 L88.75,223.74 L89.50,223.84 L90.25,223.93 L91.00,224.03 L91.75,224.13 L92.50,224.23 L93.25,224.33 L94.00,224.43 L94.75,224.53 L95.50,224.62 L96.25,224.72 L97.00,224.81 L97.75,224.89 L98.50,224.97 L99.25,225.05 L100.00,225.12 L100.75,225.18 L101.50,225.24 L102.25,225.29 L103.00,225.33 L103.75,225.38 L104.50,225.42 L105.25,225.46 L106.00,225.49 L106.75,225.53 L107.50,225.57 L108.25,225.61 L109.00,225.64 L109.75,225.69 L110.50,225.73 L111.25,225.77 L112.00,225.82 L112.75,225.86 L113.50,225.91 L114.25,225.96 L115.00,226.00 L115.75,226.05 L116.50,226.10 L117.25,226.14 L118.00,226.19 L118.75,226.23 L119.50,226.27 L120.25,226.31 L121.00,226.35 L121.75,226.40 L122.50,226.44 L123.25,226.48 L124.00,226.52 L124.75,226.56 L125.50,226.60 L126.25,226.64 L127.00,226.67 L127.75,226.71 L128.50,226.74 L129.25,226.77 L130.00,226.80 L130.75,226.83 L131.50,226.85 L132.25,226.88 L133.00,226.90 L133.75,226.93 L134.50,226.95 L135.25,226.97 L136.00,226.99 L136.75,227.02 L137.50,227.04 L138.25,227.06 L139.00,227.08 L139.75,227.10 L140.50,227.11 L141.25,227.13 L142.00,227.15 L142.75,227.16 L143.50,227.17 L144.25,227.19 L145.00,227.20 L145.75,227.21 L146.50,227.22 L147.25,227.23 L148.00,227.25 L148.75,227.26 L149.50,227.27 L150.25,227.28 L151.00,227.29 L151.75,227.30 L152.50,227.31 L153.25,227.32 L154.00,227.33 L154.75,227.34 L155.50,227.35 L156.25,227.35 L157.00,227.36 L157.75,227.37 L158.50,227.37 L159.25,227.38 L160.00,227.39 L160.75,227.39 L161.50,227.39 L162.25,227.40 L163.00,227.40 L163.45,227.40 L214.50,227.40 L215.25,227.44 L216.00,227.49 L216.75,227.53 L217.50,227.58 L218.25,227.62 L219.00,227.67 L219.75,227.71 L220.50,227.76 L221.25,227.80 L222.00,227.85 L222.75,227.90 L223.50,227.95 L224.25,228.00 L225.00,228.05 L225.75,228.10 L226.50,228.15 L227.25,228.20 L228.00,228.24 L228.75,228.29 L229.50,228.33 L230.25,228.36 L231.00,228.40 L231.75,228.43 L232.50,228.47 L233.25,228.50 L234.00,228.53 L234.75,228.56 L235.50,228.59 L236.25,228.61 L237.00,228.63 L237.75,228.65 L238.50,228.66 L239.25,228.67 L240.00,228.68 L240.75,228.69 L241.50,228.70 L242.25,228.71 L243.00,228.72 L243.75,228.73 L244.50,228.74 L245.25,228.75 L246.00,228.75 L246.75,228.76 L247.50,228.77 L248.25,228.78 L249.00,228.78 L249.75,228.79 L250.50,228.79 L251.25,228.80 L252.00,228.80 L252.75,228.81 L253.50,228.81 L254.25,228.81 L255.00,228.82 L255.75,228.82 L256.50,228.82 L257.25,228.82 L258.00,228.83 L258.75,228.83 L259.50,228.83 L260.25,228.83 L261.00,228.84 L261.75,228.84 L262.50,228.84 L263.25,228.84 L264.00,228.84 L264.75,228.85 L265.50,228.85 L266.25,228.85 L267.00,228.85 L267.75,228.85 L268.50,228.85 L269.25,228.86 L270.00,228.86 L270.75,228.86 L271.50,228.86 L272.25,228.86 L273.00,228.86 L273.75,228.86 L274.50,228.87 L275.25,228.87 L276.00,228.87 L276.75,228.87 L277.50,228.87 L278.25,228.87 L279.00,228.87 L279.75,228.87 L280.50,228.87 L281.25,228.88 L282.00,228.88 L282.75,228.88 L283.50,228.88 L284.25,228.88 L285.00,228.88 L285.75,228.88 L286.50,228.88 L287.25,228.88 L288.00,228.88 L288.75,228.88 L289.50,228.88 L290.25,228.88 L291.00,228.88 L291.75,228.88 L292.50,228.88 L293.25,228.88 L294.00,228.88 L294.75,228.88 L295.50,228.88 L296.25,228.88 L297.00,228.88 L297.75,228.88 L298.50,228.88 L299.25,228.88 L300.00,228.88 L300.75,228.88 L301.50,228.88 L302.25,228.88 L303.00,228.88 L303.75,228.88 L304.50,228.88 L305.25,228.88 L306.00,228.88 L306.75,228.88 L307.50,228.88 L308.25,228.88 L309.00,228.88 L309.75,228.88 L310.50,228.88 L311.25,228.88 L312.00,228.88 L312.75,228.88 L313.50,228.88 L314.25,228.88 L315.00,228.88 L315.75,228.88 L316.50,228.88 L317.25,228.88 L318.00,228.88 L318.75,228.88 L319.50,228.88 L320.25,228.88 L321.00,228.88 L321.75,228.88 L322.50,228.88 L323.25,228.88 L324.00,228.88 L324.75,228.88 L325.50,228.88 L326.25,228.87 L327.00,228.87 L327.75,228.87 L328.50,228.87 L329.25,228.87 L330.00,228.87 L330.75,228.87 L331.50,228.87 L332.25,228.87 L333.00,228.87 L333.75,228.87 L334.50,228.87 L335.25,228.87 L336.00,228.87 L336.75,228.87 L337.50,228.87 L338.25,228.87 L339.00,228.87 L339.75,228.87 L340.50,228.87 L341.25,228.87 L342.00,228.86 L342.75,228.86 L343.50,228.86 L344.25,228.86 L345.00,228.86 L345.75,228.86 L346.50,228.86 L347.25,228.86 L348.00,228.86 L348.75,228.86 L349.50,228.86 L350.25,228.86 L351.00,228.86 L351.75,228.85 L352.50,228.85 L353.25,228.85 L354.00,228.85 L354.75,228.85 L355.50,228.85 L356.25,228.85 L357.00,228.85 L357.75,228.85 L358.50,228.84 L359.25,228.84 L360.00,228.84 L360.75,228.84 L361.50,228.84 L362.25,228.84 L363.00,228.84 L363.75,228.84 L364.50,228.83 L365.25,228.83 L366.00,228.83 L366.75,228.83 L367.50,228.83 L368.25,228.83 L369.00,228.83 L369.75,228.82 L370.50,228.82 L371.25,228.82 L372.00,228.82 L372.75,228.82 L373.50,228.82 L374.25,228.81 L375.00,228.81 L375.75,228.81 L375.80,228.81" stroke="#d8d8d8" stroke-width="1.6" fill="none" stroke-linejoin="round"/>
</g>
<g id="axes">
<line x1="10" y1="127.45" x2="375.8" y2="127.45" stroke="#666666" stroke-width="0.27"/>
<line x1="17.45" y1="14.9" x2="17.45" y2="239.9" stroke="#666666" stroke-width="0.36"/>
<line x1="32.05" y1="127.4" x2="32.05" y2="125.5" stroke="#666666" stroke-width="0.36"/>
<line x1="46.65" y1="127.4" x2="46.65" y2="125.5" stroke="#666666" stroke-width="0.36"/>
<line x1="61.25" y1="127.4" x2="61.25" y2="125.5" stroke="#666666" stroke-width="0.36"/>
<line x1="75.85" y1="127.4" x2="75.85" y2="125.5" stroke="#666666" stroke-width="0.36"/>
<line x1="90.45" y1="127.4" x2="90.45" y2="124.2" stroke="#666666" stroke-width="0.36"/>
<line x1="105.05" y1="127.4" x2="105.05" y2="125.5" stroke="#666666" stroke-width="0.36"/>
<line x1="119.65" y1="127.4" x2="119.65" y2="125.5" stroke="#666666" stroke-width="0.36"/>
<line x1="134.25" y1="127.4" x2="134.25" y2="125.5" stroke="#666666" stroke-width="0.36"/>
<line x1="148.85" y1="127.4" x2="148.85" y2="125.5" stroke="#666666" stroke-width="0.36"/>
<line x1="163.45" y1="127.4" x2="163.45" y2="124.2" stroke="#666666" stroke-width="0.36"/>
<line x1="178.05" y1="127.4" x2="178.05" y2="125.5" stroke="#666666" stroke-width="0.36"/>
<line x1="192.65" y1="127.4" x2="192.65" y2="125.5" stroke="#666666" stroke-width="0.36"/>
<line x1="207.25" y1="127.4" x2="207.25" y2="125.5" stroke="#666666" stroke-width="0.36"/>
<line x1="221.85" y1="127.4" x2="221.85" y2="125.5" stroke="#666666" stroke-width="0.36"/>
<line x1="236.45" y1="127.4" x2="236.45" y2="124.2" stroke="#666666" stroke-width="0.36"/>
<line x1="251.05" y1="127.4" x2="251.05" y2="125.5" stroke="#666666" stroke-width="0.36"/>
<line x1="265.65" y1="127.4" x2="265.65" y2="125.5" stroke="#666666" stroke-width="0.36"/>
<line x1="280.25" y1="127.4" x2="280.25" y2="125.5" stroke="#666666" stroke-width="0.36"/>
<line x1="294.85" y1="127.4" x2="294.85" y2="125.5" stroke="#666666" stroke-width="0.36"/>
<line x1="309.45" y1="127.4" x2="309.45" y2="124.2" stroke="#666666" stroke-width="0.36"/>
<line x1="324.05" y1="127.4" x2="324.05" y2="125.5" stroke="#666666" stroke-width="0.36"/>
<line x1="338.65" y1="127.4" x2="338.65" y2="125.5" stroke="#666666" stroke-width="0.36"/>
<line x1="353.25" y1="127.4" x2="353.25" y2="125.5" stroke="#666666" stroke-width="0.36"/>
<line x1="367.85" y1="127.4" x2="367.85" y2="125.5" stroke="#666666" stroke-width="0.36"/>
<line x1="17.45" y1="237.15" x2="19.349999999999998" y2="237.15" stroke="#666666" stroke-width="0.36"/>
<line x1="17.45" y1="230.70" x2="19.349999999999998" y2="230.70" stroke="#666666" stroke-width="0.36"/>
<line x1="17.45" y1="224.24" x2="20.65" y2="224.24" stroke="#666666" stroke-width="0.36"/>
<line x1="17.45" y1="217.78" x2="19.349999999999998" y2="217.78" stroke="#666666" stroke-width="0.36"/>
<line x1="17.45" y1="211.33" x2="19.349999999999998" y2="211.33" stroke="#666666" stroke-width="0.36"/>
<line x1="17.45" y1="204.87" x2="19.349999999999998" y2="204.87" stroke="#666666" stroke-width="0.36"/>
<line x1="17.45" y1="198.42" x2="19.349999999999998" y2="198.42" stroke="#666666" stroke-width="0.36"/>
<line x1="17.45" y1="191.96" x2="20.65" y2="191.96" stroke="#666666" stroke-width="0.36"/>
<line x1="17.45" y1="185.50" x2="19.349999999999998" y2="185.50" stroke="#666666" stroke-width="0.36"/>
<line x1="17.45" y1="179.05" x2="19.349999999999998" y2="179.05" stroke="#666666" stroke-width="0.36"/>
<line x1="17.45" y1="172.59" x2="19.349999999999998" y2="172.59" stroke="#666666" stroke-width="0.36"/>
<line x1="17.45" y1="166.14" x2="19.349999999999998" y2="166.14" stroke="#666666" stroke-width="0.36"/>
<line x1="17.45" y1="159.68" x2="20.65" y2="159.68" stroke="#666666" stroke-width="0.36"/>
<line x1="17.45" y1="153.22" x2="19.349999999999998" y2="153.22" stroke="#666666" stroke-width="0.36"/>
<line x1="17.45" y1="146.77" x2="19.349999999999998" y2="146.77" stroke="#666666" stroke-width="0.36"/>
<line x1="17.45" y1="140.31" x2="19.349999999999998" y2="140.31" stroke="#666666" stroke-width="0.36"/>
<line x1="17.45" y1="133.86" x2="19.349999999999998" y2="133.86" stroke="#666666" stroke-width="0.36"/>
<line x1="17.45" y1="120.94" x2="19.349999999999998" y2="120.94" stroke="#666666" stroke-width="0.36"/>
<line x1="17.45" y1="114.49" x2="19.349999999999998" y2="114.49" stroke="#666666" stroke-width="0.36"/>
<line x1="17.45" y1="108.03" x2="19.349999999999998" y2="108.03" stroke="#666666" stroke-width="0.36"/>
<line x1="17.45" y1="101.58" x2="19.349999999999998" y2="101.58" stroke="#666666" stroke-width="0.36"/>
<line x1="17.45" y1="95.12" x2="20.65" y2="95.12" stroke="#666666" stroke-width="0.36"/>
<line x1="17.45" y1="88.66" x2="19.349999999999998" y2="88.66" stroke="#666666" stroke-width="0.36"/>
<line x1="17.45" y1="82.21" x2="19.349999999999998" y2="82.21" stroke="#666666" stroke-width="0.36"/>
<line x1="17.45" y1="75.75" x2="19.349999999999998" y2="75.75" stroke="#666666" stroke-width="0.36"/>
<line x1="17.45" y1="69.30" x2="19.349999999999998" y2="69.30" stroke="#666666" stroke-width="0.36"/>
<line x1="17.45" y1="62.84" x2="20.65" y2="62.84" stroke="#666666" stroke-width="0.36"/>
<line x1="17.45" y1="56.38" x2="19.349999999999998" y2="56.38" stroke="#666666" stroke-width="0.36"/>
<line x1="17.45" y1="49.93" x2="19.349999999999998" y2="49.93" stroke="#666666" stroke-width="0.36"/>
<line x1="17.45" y1="43.47" x2="19.349999999999998" y2="43.47" stroke="#666666" stroke-width="0.36"/>
<line x1="17.45" y1="37.02" x2="19.349999999999998" y2="37.02" stroke="#666666" stroke-width="0.36"/>
<line x1="17.45" y1="30.56" x2="20.65" y2="30.56" stroke="#666666" stroke-width="0.36"/>
<line x1="17.45" y1="24.10" x2="19.349999999999998" y2="24.10" stroke="#666666" stroke-width="0.36"/>
<line x1="17.45" y1="17.65" x2="19.349999999999998" y2="17.65" stroke="#666666" stroke-width="0.36"/>
</g>
<g id="labels" font-family="&quot;Liberation Sans&quot;, sans-serif" fill="#444444">
<text x="90.45" y="136" font-size="7.2" text-anchor="middle">5</text>
<text x="163.8" y="136" font-size="7.2" text-anchor="middle">10</text>
<text x="236.8" y="136" font-size="7.2" text-anchor="middle">15</text>
<text x="309.45" y="136" font-size="7.2" text-anchor="middle">20</text>
<text x="15.3" y="32.66" font-size="7.3" text-anchor="end">3</text>
<text x="15.3" y="64.94" font-size="7.3" text-anchor="end">2</text>
<text x="15.3" y="97.22" font-size="7.3" text-anchor="end">1</text>
<text x="15.3" y="161.78" font-size="7.3" text-anchor="end">-1</text>
<text x="15.3" y="194.06" font-size="7.3" text-anchor="end">-2</text>
<text x="15.3" y="226.34" font-size="7.3" text-anchor="end">-3</text>
<text x="381.4" y="129.9" font-size="7.2">t</text>
<text x="9.9" y="6.55" font-size="6.4">x</text>
<text x="12.9" y="8.65" font-size="6.4">new</text>
</g>
<g id="legend" font-family="&quot;Liberation Sans&quot;, sans-serif" fill="#1c1c1c">
<line x1="397.8" y1="17.6" x2="411.45" y2="17.6" stroke="#000000" stroke-width="1.8"/>
<line x1="417.0" y1="18.05" x2="427.9" y2="18.05" stroke="#1c1c1c" stroke-width="0.9"/>
<text x="417.9" y="15.9" font-size="6.2">3</text>
<text x="423.4" y="15.9" font-size="6.4" font-family="&quot;Liberation Serif&quot;, serif" font-style="italic">π</text>
<text x="422.5" y="26.85" font-size="6.2" text-anchor="middle">4</text>
<line x1="397.8" y1="45.6" x2="411.45" y2="45.6" stroke="#808080" stroke-width="1.6"/>
<line x1="417.0" y1="46.050000000000004" x2="427.9" y2="46.050000000000004" stroke="#1c1c1c" stroke-width="0.9"/>
<text x="417.9" y="43.9" font-size="6.2">2</text>
<text x="423.4" y="43.9" font-size="6.4" font-family="&quot;Liberation Serif&quot;, serif" font-style="italic">π</text>
<text x="422.5" y="54.85" font-size="6.2" text-anchor="middle">3</text>
<line x1="397.8" y1="71.3" x2="411.45" y2="71.3" stroke="#0000ff" stroke-width="1.6"/>
<text x="417.2" y="74.5" font-size="8.2">1.76076</text>
<line x1="397.8" y1="93.7" x2="411.45" y2="93.7" stroke="#9b652c" stroke-width="1.6"/>
<line x1="417.0" y1="94.4" x2="422.9" y2="94.4" stroke="#1c1c1c" stroke-width="0.9"/>
<text x="418.1" y="92.9" font-size="6.4" font-family="&quot;Liberation Serif&quot;, serif" font-style="italic">π</text>
<text x="420.3" y="103.65" font-size="6.2" text-anchor="middle">2</text>
<line x1="397.8" y1="119.6" x2="411.45" y2="119.6" stroke="#ff8000" stroke-width="1.6"/>
<text x="416.2" y="122.7" font-size="8.2">0</text>
<line x1="397.8" y1="141.7" x2="411.45" y2="141.7" stroke="#ffd2d2" stroke-width="1.6"/>
<text x="416.7" y="145.1" font-size="7">−</text>
<line x1="422.7" y1="142.4" x2="428.4" y2="142.4" stroke="#1c1c1c" stroke-width="0.9"/>
<text x="423.5" y="140.7" font-size="6.4" font-family="&quot;Liberation Serif&quot;, serif" font-style="italic">π</text>
<text x="426.1" y="151.85" font-size="6.2" text-anchor="middle">6</text>
<line x1="397.8" y1="167.9" x2="411.45" y2="167.9" stroke="#ff0000" stroke-width="1.6"/>
<text x="416.7" y="171" font-size="8.2">−1.76076</text>
<line x1="397.8" y1="191.2" x2="411.45" y2="191.2" stroke="#deeefc" stroke-width="1.6"/>
<text x="416.7" y="194.8" font-size="7">−</text>
<line x1="422.7" y1="191.7" x2="433.35" y2="191.7" stroke="#1c1c1c" stroke-width="0.9"/>
<text x="423.1" y="189.9" font-size="6.2">2</text>
<text x="428.5" y="189.9" font-size="6.4" font-family="&quot;Liberation Serif&quot;, serif" font-style="italic">π</text>
<text x="428.6" y="201.05" font-size="6.2" text-anchor="middle">3</text>
<line x1="397.8" y1="219.2" x2="411.45" y2="219.2" stroke="#d8d8d8" stroke-width="1.6"/>
<text x="416.7" y="222.8" font-size="7">−</text>
<line x1="422.7" y1="219.7" x2="433.35" y2="219.7" stroke="#1c1c1c" stroke-width="0.9"/>
<text x="423.1" y="217.9" font-size="6.2">3</text>
<text x="428.5" y="217.9" font-size="6.4" font-family="&quot;Liberation Serif&quot;, serif" font-style="italic">π</text>
<text x="428.6" y="229.05" font-size="6.2" text-anchor="middle">4</text>
</g>
</svg>
</body></html>
